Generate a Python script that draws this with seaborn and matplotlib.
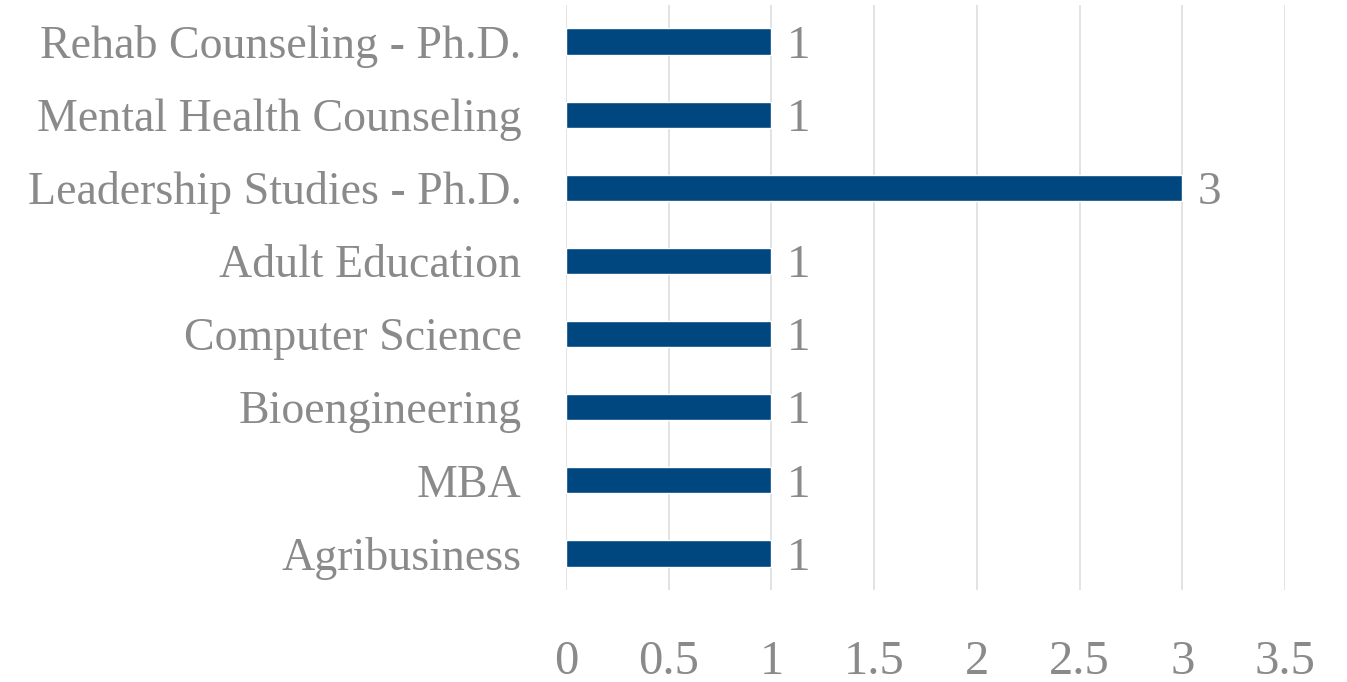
import matplotlib
matplotlib.use("Agg")
import matplotlib.pyplot as plt
import seaborn as sns
import pandas as pd

categories = ["Rehab Counseling - Ph.D.", "Mental Health Counseling", "Leadership Studies - Ph.D.",
              "Adult Education", "Computer Science", "Bioengineering", "MBA", "Agribusiness"]
counts = [1, 1, 3, 1, 1, 1, 1, 1]
xticks = [0, 0.5, 1, 1.5, 2, 2.5, 3, 3.5]
xticklabels = ["0", "0.5", "1", "1.5", "2", "2.5", "3", "3.5"]

df = pd.DataFrame({"program": categories, "count": counts})

sns.set_theme(style="white")
plt.rcParams["font.family"] = ["Liberation Serif", "DejaVu Serif"]

TEXT = "#8a8a8a"
BAR = "#00467F"
GRID = "#dedede"

fig = plt.figure(figsize=(13.47, 6.82), dpi=100)
ax = fig.add_axes([566/1347, 1 - 590/682, (1285-566)/1347, 585/682])

sns.barplot(data=df, x="count", y="program", order=categories, color=BAR,
            width=0.36, saturation=1, ax=ax, orient="h")

ax.set_xlim(0, 3.5)
ax.set_xticks(xticks)
ax.set_xticklabels(xticklabels)
ax.set_xlabel("")
ax.set_ylabel("")
ax.grid(axis="x", color=GRID, linewidth=1.2)
ax.set_axisbelow(True)
for s in ax.spines.values():
    s.set_visible(False)
ax.tick_params(axis="x", length=0, pad=36, labelsize=35, labelcolor=TEXT)
ax.tick_params(axis="y", length=0, pad=32, labelsize=33, labelcolor=TEXT)

for cont in ax.containers:
    labels = ax.bar_label(cont, labels=[str(v) for v in counts], padding=11,
                          fontsize=34, color=TEXT)
    for t in labels:
        t.set_verticalalignment("center_baseline")

fig.savefig("out.png", dpi=100)
